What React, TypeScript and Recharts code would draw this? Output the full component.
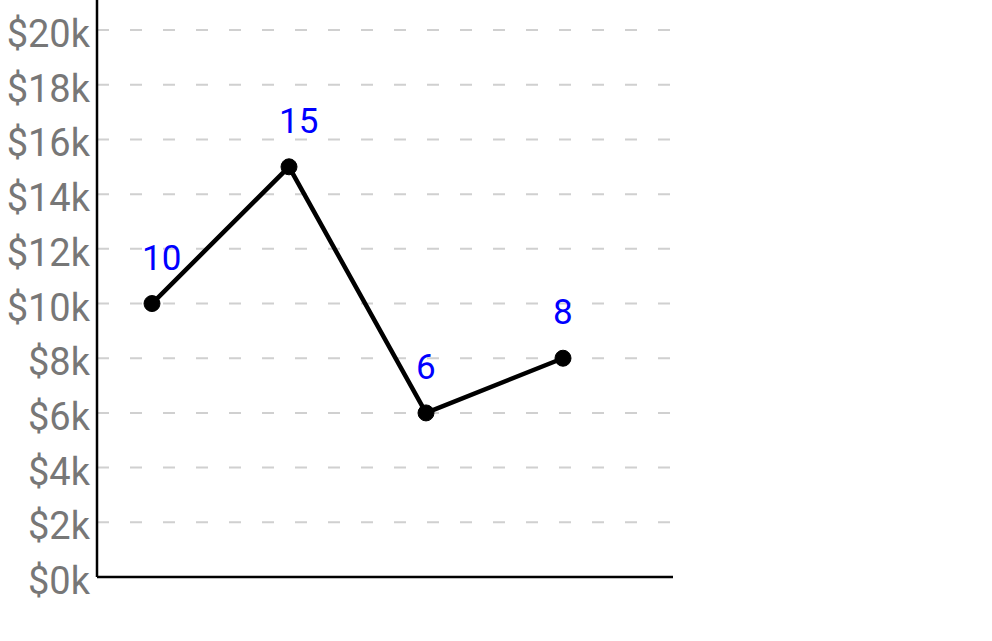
import React from "react";
import { LineChart, Line, XAxis, YAxis, CartesianGrid, LabelList } from "recharts";

const categories = ["A", "B", "C", "D"];
const values = [10, 15, 6, 8];
const yTicks = [0, 2, 4, 6, 8, 10, 12, 14, 16, 18, 20];

const data = categories.map((c, i) => ({ name: c, value: values[i] }));

const renderLabel = (props: any) => {
  const { x, y, value } = props;
  return (
    <text
      x={x - 10}
      y={y - 34}
      fill="#0000ff"
      fontSize={35}
      fontFamily="Roboto"
      textAnchor="start"
    >
      {value}
    </text>
  );
};

const renderTick = (props: any) => {
  const { x, y, payload } = props;
  return (
    <text
      x={x}
      y={y + 17}
      fill="#777"
      fontSize={38}
      fontFamily="Roboto"
      textAnchor="end"
    >
      {`$${payload.value}k`}
    </text>
  );
};

export default function App() {
  return (
    <div style={{ position: "absolute", left: 0, top: 0 }}>
      <LineChart
        width={992}
        height={641}
        data={data}
        margin={{ top: 0, right: 319, bottom: 54, left: 0 }}
      >
        <CartesianGrid
          vertical={false}
          stroke="#d0d0d0"
          strokeWidth={2}
          strokeDasharray="12 21"
          horizontalValues={yTicks.filter((t) => t > 0)}
        />
        <XAxis
          dataKey="name"
          type="category"
          height={10}
          tick={false}
          tickLine={false}
          axisLine={{ stroke: "#000", strokeWidth: 2.5 }}
          padding={{ left: 55, right: 110 }}
        />
        <YAxis
          width={97}
          domain={[0, 21.1]}
          ticks={yTicks}
          allowDataOverflow
          tickLine={false}
          tickSize={5}
          tickMargin={2}
          axisLine={{ stroke: "#000", strokeWidth: 2.5 }}
          tick={renderTick}
        />
        <Line
          type="linear"
          dataKey="value"
          stroke="#000"
          strokeWidth={4.5}
          dot={{ r: 8, fill: "#000", stroke: "#000", strokeWidth: 1 }}
          activeDot={false}
          isAnimationActive={false}
        >
          <LabelList dataKey="value" content={renderLabel} />
        </Line>
      </LineChart>
    </div>
  );
}
